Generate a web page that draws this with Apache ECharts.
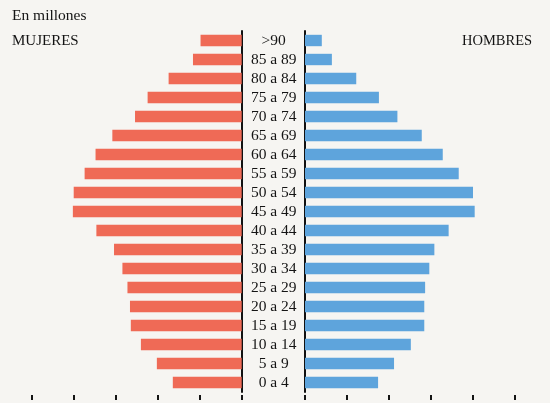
<!DOCTYPE html>
<html>
<head>
<meta charset="utf-8">
<script src="https://cdn.jsdelivr.net/npm/echarts@6/dist/echarts.min.js"></script>
<style>
html,body{margin:0;padding:0;background:#f6f5f2;}
#c{width:550px;height:403px;}
</style>
</head>
<body>
<div id="c"></div>
<script>
var categories = [">90", "85 a 89", "80 a 84", "75 a 79", "70 a 74", "65 a 69", "60 a 64", "55 a 59", "50 a 54", "45 a 49", "40 a 44", "35 a 39", "30 a 34", "25 a 29", "20 a 24", "15 a 19", "10 a 14", "5 a 9", "0 a 4"];
var mujeres = [0.49, 0.58, 0.87, 1.12, 1.27, 1.54, 1.74, 1.87, 2.00, 2.01, 1.73, 1.52, 1.42, 1.36, 1.33, 1.32, 1.20, 1.01, 0.82];
var hombres = [0.20, 0.32, 0.61, 0.88, 1.10, 1.39, 1.64, 1.83, 2.00, 2.02, 1.71, 1.54, 1.48, 1.43, 1.42, 1.42, 1.26, 1.06, 0.87];
var xTicks = [0, 0.5, 1, 1.5, 2, 2.5];

var chart = echarts.init(document.getElementById('c'));
var serif = '"Liberation Serif", "DejaVu Serif", serif';
var ink = '#141414';
var tickMax = xTicks[xTicks.length - 1];
var tickStep = xTicks[1] - xTicks[0];

function xAxisCfg(gi, inverse) {
  return {
    type: 'value', gridIndex: gi, min: 0, max: tickMax, interval: tickStep,
    inverse: inverse, position: 'bottom', offset: 3,
    axisLine: {show: false},
    axisTick: {show: true, length: 5, lineStyle: {color: ink, width: 2}},
    axisLabel: {show: false},
    splitLine: {show: false}
  };
}

chart.setOption({
  backgroundColor: '#f6f5f2',
  animation: false,
  graphic: [
    {type: 'text', left: 12, top: 8, style: {text: 'En millones', font: '15.5px ' + serif, fill: ink}},
    {type: 'text', left: 12, top: 34, style: {text: 'MUJERES', font: '15px ' + serif, fill: ink}},
    {type: 'text', left: 462, top: 34, style: {text: 'HOMBRES', font: '14.5px ' + serif, fill: ink}}
  ],
  grid: [
    {left: 31.7, width: 210, top: 31, height: 361, containLabel: false},
    {left: 305, width: 210, top: 31, height: 361, containLabel: false}
  ],
  xAxis: [xAxisCfg(0, true), xAxisCfg(1, false)],
  yAxis: [
    {
      type: 'category', gridIndex: 0, data: categories, inverse: true, position: 'right',
      axisLine: {show: true, lineStyle: {color: '#111', width: 2}},
      axisTick: {show: false},
      axisLabel: {show: true, interval: 0, align: 'center', margin: 32, fontFamily: serif, fontSize: 15.5, color: ink}
    },
    {
      type: 'category', gridIndex: 1, data: categories, inverse: true, position: 'left',
      axisLine: {show: true, lineStyle: {color: '#111', width: 2}},
      axisTick: {show: false},
      axisLabel: {show: false}
    }
  ],
  series: [
    {type: 'bar', name: 'Mujeres', xAxisIndex: 0, yAxisIndex: 0, data: mujeres, barWidth: '60%',
     itemStyle: {color: '#ef6a56'}},
    {type: 'bar', name: 'Hombres', xAxisIndex: 1, yAxisIndex: 1, data: hombres, barWidth: '60%',
     itemStyle: {color: '#5ea4dc'}}
  ]
});
</script>
</body>
</html>
